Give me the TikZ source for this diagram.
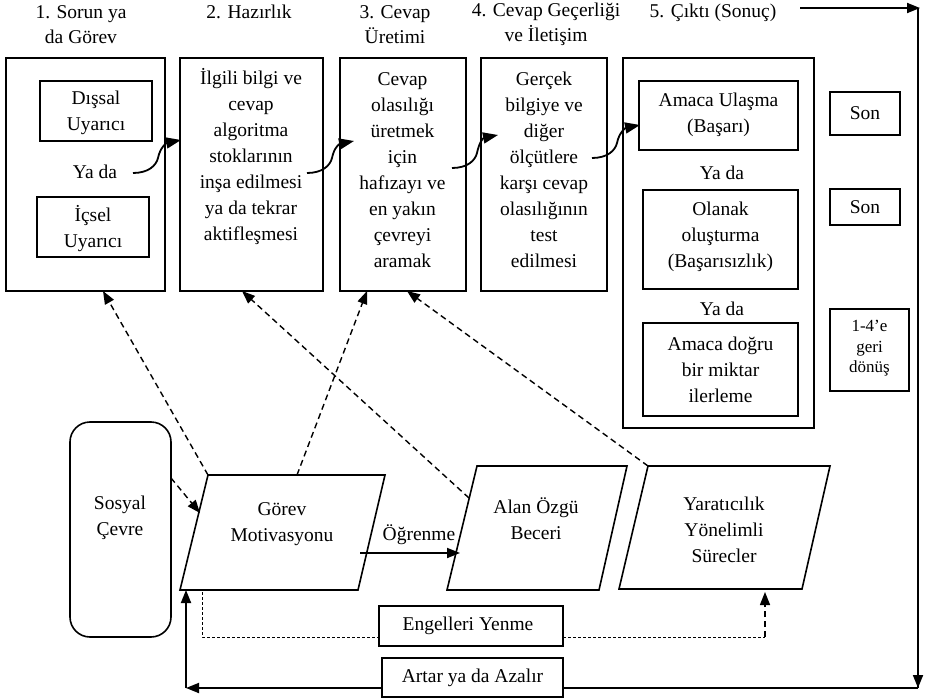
\documentclass[tikz,border=0pt]{standalone}
\usepackage{fontspec}
\setmainfont{Liberation Serif}
\usetikzlibrary{arrows.meta}
\begin{document}
\begin{tikzpicture}[x=1pt,y=-1pt,
  box/.style={draw, line width=1.5pt, fill=white, inner sep=0pt},
  txt/.style={align=center, inner sep=0pt, font=\fontsize{19.5}{26}\selectfont},
  htxt/.style={align=center, inner sep=0pt, font=\fontsize{19.5}{25}\selectfont},
  stxt/.style={align=center, inner sep=0pt, font=\fontsize{17}{20.5}\selectfont},
  arr/.style={line width=1.8pt, -{Triangle[length=13pt,width=10pt]}},
  darr/.style={line width=1.4pt, dash pattern=on 6pt off 4pt, -{Triangle[length=13pt,width=10pt]}},
  sq/.style={line width=1.8pt, -{Triangle[length=15pt,width=11pt]}},
  thindash/.style={line width=0.9pt, dash pattern=on 3pt off 2pt},
  para/.style={draw, line width=1.6pt, line join=miter}
]
\useasboundingbox (0,0) rectangle (925,700);

% headers
\node[htxt] (h1) at (81,24.5) {1. Sorun ya\\da Görev};
\node[htxt] (h2) at (249,12) {2. Hazırlık};
\node[htxt] (h3) at (395,24.5) {3. Cevap\\Üretimi};
\node[htxt] (h4) at (546,24.5) {4. Cevap Geçerliği\\ve İletişim};
\node[htxt] (h5) at (713,13) {5. Çıktı (Sonuç)};

% stage boxes
\node[box, minimum width=159, minimum height=233] (b1) at (85.5,174.5) {};
\node[box, minimum width=112, minimum height=60] (dis) at (96,111) {};
\node[txt] (dist) at (96,113) {Dışsal\\Uyarıcı};
\node[txt] (yada1) at (95,172) {Ya da};
\node[box, minimum width=112, minimum height=60] (ic) at (93,227) {};
\node[txt] (ict) at (93,228.5) {İçsel\\Uyarıcı};

\node[box, minimum width=143, minimum height=233] (b2) at (251.5,174.5) {};
\node[txt] (t2) at (251,156.5) {İlgili bilgi ve\\cevap\\algoritma\\stoklarının\\inşa edilmesi\\ya da tekrar\\aktifleşmesi};

\node[box, minimum width=126, minimum height=233] (b3) at (403,174.5) {};
\node[txt] (t3) at (402.5,170) {Cevap\\olasılığı\\üretmek\\için\\hafızayı ve\\en yakın\\çevreyi\\aramak};

\node[box, minimum width=126, minimum height=233] (b4) at (544,174.5) {};
\node[txt] (t4) at (544,170) {Gerçek\\bilgiye ve\\diğer\\ölçütlere\\karşı cevap\\olasılığının\\test\\edilmesi};

\node[box, minimum width=191, minimum height=370] (b5) at (718.5,243) {};
\node[box, minimum width=159, minimum height=69] (ulas) at (718.5,115.5) {};
\node[txt] (ulast) at (718.5,115) {Amaca Ulaşma\\(Başarı)};
\node[txt] (yada2) at (722,173) {Ya da};
\node[box, minimum width=155, minimum height=99] (olan) at (720.5,239.5) {};
\node[txt] (olant) at (720.5,237) {Olanak\\oluşturma\\(Başarısızlık)};
\node[txt] (yada3) at (722,309) {Ya da};
\node[box, minimum width=155, minimum height=93] (ileri) at (720.5,369.5) {};
\node[txt] (ilerit) at (720.5,369.5) {Amaca doğru\\bir miktar\\ilerleme};

\node[box, minimum width=70, minimum height=43] (son1) at (865,113.5) {};
\node[txt] (son1t) at (865,113.5) {Son};
\node[box, minimum width=70, minimum height=36] (son2) at (865,207) {};
\node[txt] (son2t) at (865,207) {Son};
\node[box, minimum width=79, minimum height=82] (geri) at (869.5,350) {};
\node[stxt] (gerit) at (869.5,348.5) {1-4’e\\geri\\dönüş};

% bottom shapes
\node[draw, line width=1.6pt, rounded corners=20pt, minimum width=101, minimum height=215] (sos) at (120.5,529.5) {};
\node[txt] (sost) at (120,518) {Sosyal\\Çevre};

\coordinate (gTL) at (208,475);
\coordinate (gTR) at (385,475);
\coordinate (gBR) at (358,590);
\coordinate (gBL) at (180,590);
\draw[para] (gTL) -- (gTR) -- (gBR) -- (gBL) -- cycle;
\node[txt] (gor) at (282,524) {Görev\\Motivasyonu};

\coordinate (aTL) at (477,466);
\coordinate (aTR) at (627,466);
\coordinate (aBR) at (599,590);
\coordinate (aBL) at (447,590);
\draw[para] (aTL) -- (aTR) -- (aBR) -- (aBL) -- cycle;
\node[txt] (alan) at (536,519) {Alan Özgü\\Beceri};

\coordinate (yTL) at (648,466);
\coordinate (yTR) at (830,466);
\coordinate (yBR) at (802,589);
\coordinate (yBL) at (619,589);
\draw[para] (yTL) -- (yTR) -- (yBR) -- (yBL) -- cycle;
\node[txt] (yar) at (724,530) {Yaratıcılık\\Yönelimli\\Sürecler};

% squiggle arrows
\coordinate (s1) at (133,173); \coordinate (e1) at (181,140);
\coordinate (s2) at (307,173); \coordinate (e2) at (354,141);
\coordinate (s3) at (452,168); \coordinate (e3) at (498,135);
\coordinate (s4) at (592,158); \coordinate (e4) at (640,125);
\foreach \i in {1,2,3,4}{
  \draw[sq] (s\i) .. controls +(15,0) and +(-2,8) .. ++(25,-15) .. controls +(2,-10) and +(-15,3) .. (e\i);
}

% dashed influence arrows
\coordinate (b1in) at (103,291);
\coordinate (b2in) at (242,291);
\coordinate (b3inA) at (367,291);
\coordinate (b3inB) at (407,291);
\coordinate (gTop) at (297,475);
\coordinate (aLeft) at (469,498);
\coordinate (sosOut) at (171,478);
\coordinate (gLeft) at (200,513);
\draw[darr] (gTL) -- (b1in);
\draw[darr] (aLeft) -- (b2in);
\draw[darr] (gTop) -- (b3inA);
\draw[darr] (yTL) -- (b3inB);
\draw[darr] (sosOut) -- (gLeft);

% learning
\coordinate (lS) at (360,553);
\coordinate (lE) at (460,553);
\draw[arr] (lS) -- (lE);
\node[txt] (ogr) at (419,535) {Öğrenme};

% overcoming obstacles
\coordinate (o1) at (202,592);
\coordinate (o2) at (202,637);
\coordinate (o3) at (765,637);
\coordinate (o4) at (765,592);
\draw[thindash] (o1) -- (o2) -- (379,637);
\draw[thindash] (563,637) -- (o3);
\draw[darr] (o3) -- (o4);
\node[box, line width=1.4pt, minimum width=184, minimum height=40] (eng) at (471,626) {};
\node[txt] (engt) at (468,626) {Engelleri Yenme};

% feedback loop
\coordinate (r0) at (800,8);
\coordinate (r1) at (920,8);
\coordinate (r2) at (918,688);
\coordinate (r3) at (186,688);
\coordinate (gb) at (186,590);
\draw[arr] (r0) -- (r1);
\draw[line width=1.8pt] (918,8) -- (r2);
\draw[arr] (918,650) -- (r2);
\draw[arr] (r2) -- (r3);
\draw[arr] (r3) -- (gb);
\node[box, line width=1.4pt, minimum width=181, minimum height=39] (art) at (472.5,677.5) {};
\node[txt] (artt) at (472.5,677.5) {Artar ya da Azalır};
\end{tikzpicture}
\end{document}
